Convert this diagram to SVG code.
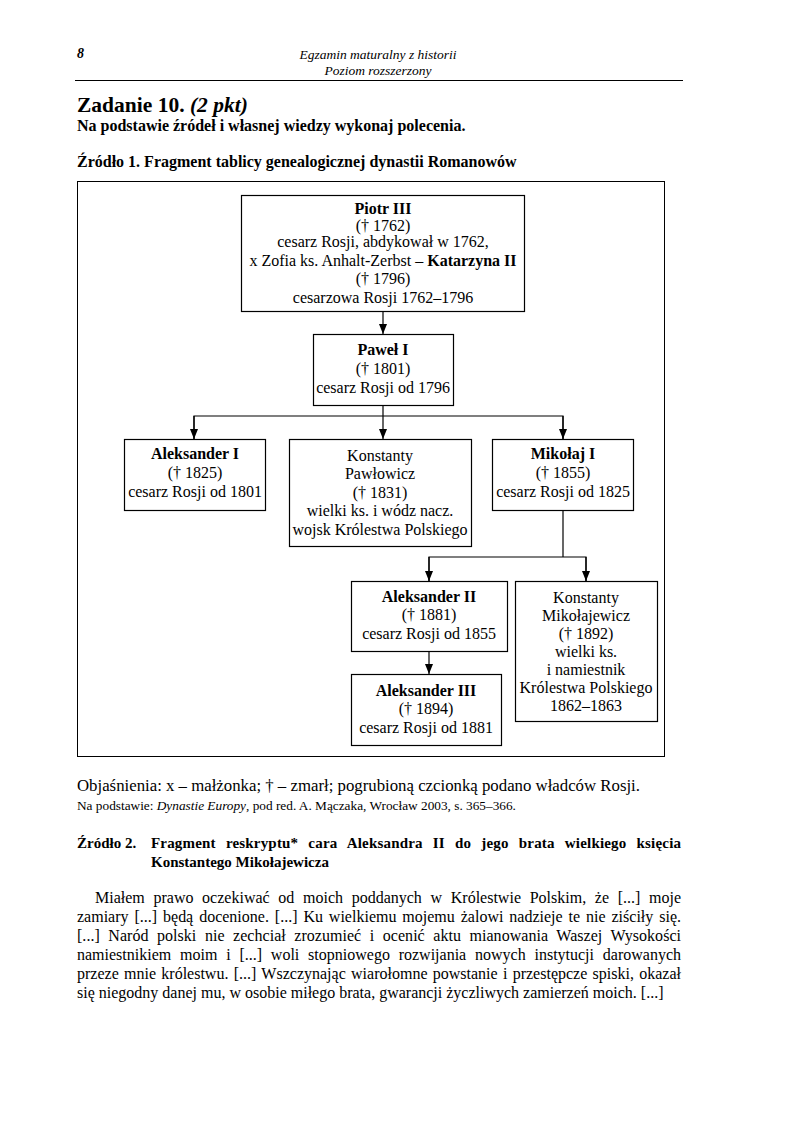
<svg xmlns="http://www.w3.org/2000/svg" width="794" height="1123" viewBox="0 0 794 1123">
<defs>
<marker id="ah" markerWidth="10" markerHeight="8" refX="10" refY="4" orient="auto" markerUnits="userSpaceOnUse" viewBox="0 0 10 8">
<path d="M0,0 L10,4 L0,8 Z" fill="#000"/>
</marker>
</defs>
<style>
text{font-family:"Liberation Serif","Times New Roman",serif;fill:#000}
.c{text-anchor:middle;font-size:16px}
.b{font-weight:bold}
.box{fill:#fff;stroke:#000;stroke-width:1.2}
.con{fill:none;stroke:#000;stroke-width:1.2}
.p{font-size:16px}
</style>
<rect width="794" height="1123" fill="#fff"/>
<!-- header -->
<text x="77" y="58" font-size="14" font-weight="bold" font-style="italic">8</text>
<text x="378" y="59" font-size="13.5" font-style="italic" text-anchor="middle">Egzamin maturalny z historii</text>
<text x="378" y="75" font-size="13.5" font-style="italic" text-anchor="middle">Poziom rozszerzony</text>
<line x1="75" y1="80.5" x2="683" y2="80.5" stroke="#000" stroke-width="1"/>
<text x="77" y="112" font-size="21.5" font-weight="bold">Zadanie 10. <tspan font-style="italic">(2 pkt)</tspan></text>
<text x="77" y="131" font-size="16" font-weight="bold">Na podstawie źródeł i własnej wiedzy wykonaj polecenia.</text>
<text x="77" y="167" font-size="16" font-weight="bold">Źródło 1. Fragment tablicy genealogicznej dynastii Romanowów</text>
<rect x="77.5" y="181.5" width="587" height="575" fill="none" stroke="#000" stroke-width="1"/>
<!-- connectors -->
<g id="connectors">
<line class="con" x1="383" y1="311" x2="383" y2="334" marker-end="url(#ah)"/>
<polyline class="con" points="383,405 383,416"/>
<polyline class="con" points="194,439 194,416 563,416 563,439"/>
<line class="con" x1="194" y1="416" x2="194" y2="439" marker-end="url(#ah)"/>
<line class="con" x1="383" y1="416" x2="383" y2="439" marker-end="url(#ah)"/>
<line class="con" x1="563" y1="416" x2="563" y2="439" marker-end="url(#ah)"/>
<polyline class="con" points="563,510 563,557"/>
<polyline class="con" points="429,581 429,557 586,557 586,581"/>
<line class="con" x1="429" y1="557" x2="429" y2="581" marker-end="url(#ah)"/>
<line class="con" x1="586" y1="557" x2="586" y2="581" marker-end="url(#ah)"/>
<line class="con" x1="429" y1="651" x2="429" y2="674" marker-end="url(#ah)"/>
</g>
<g id="piotr">
<rect class="box" x="241.5" y="195.5" width="283" height="116"/>
<text class="c b" x="383" y="214">Piotr III</text>
<text class="c" x="383" y="231" font-size="15">(† 1762)</text>
<text class="c" x="383" y="247" font-size="15">cesarz Rosji, abdykował w 1762,</text>
<text class="c" x="383" y="266">x Zofia ks. Anhalt-Zerbst – <tspan font-weight="bold">Katarzyna II</tspan></text>
<text class="c" x="383" y="284">(† 1796)</text>
<text class="c" x="383" y="303">cesarzowa Rosji 1762–1796</text>
</g>
<g id="pawel">
<rect class="box" x="313.5" y="334.5" width="140" height="71"/>
<text class="c b" x="383" y="355">Paweł I</text>
<text class="c" x="383" y="374">(† 1801)</text>
<text class="c" x="383" y="393">cesarz Rosji od 1796</text>
</g>
<g id="aleksander1">
<rect class="box" x="124.5" y="439.5" width="141" height="71"/>
<text class="c b" x="195" y="459">Aleksander I</text>
<text class="c" x="195" y="478">(† 1825)</text>
<text class="c" x="195" y="497">cesarz Rosji od 1801</text>
</g>
<g id="konstanty">
<rect class="box" x="289.5" y="439.5" width="182" height="107"/>
<text class="c" x="380" y="461">Konstanty</text>
<text class="c" x="380" y="479">Pawłowicz</text>
<text class="c" x="380" y="498">(† 1831)</text>
<text class="c" x="380" y="516">wielki ks. i wódz nacz.</text>
<text class="c" x="380" y="535">wojsk Królestwa Polskiego</text>
</g>
<g id="mikolaj">
<rect class="box" x="492.5" y="439.5" width="141" height="71"/>
<text class="c b" x="563" y="459">Mikołaj I</text>
<text class="c" x="563" y="478">(† 1855)</text>
<text class="c" x="563" y="497">cesarz Rosji od 1825</text>
</g>
<g id="aleksander2">
<rect class="box" x="351.5" y="581.5" width="156" height="70"/>
<text class="c b" x="429" y="602">Aleksander II</text>
<text class="c" x="429" y="620">(† 1881)</text>
<text class="c" x="429" y="639">cesarz Rosji od 1855</text>
</g>
<g id="aleksander3">
<rect class="box" x="351.5" y="674.5" width="150" height="71"/>
<text class="c b" x="426" y="696">Aleksander III</text>
<text class="c" x="426" y="714">(† 1894)</text>
<text class="c" x="426" y="733">cesarz Rosji od 1881</text>
</g>
<g id="konstanty2">
<rect class="box" x="515.5" y="581.5" width="142" height="140"/>
<text class="c" x="586" y="603">Konstanty</text>
<text class="c" x="586" y="621">Mikołajewicz</text>
<text class="c" x="586" y="639">(† 1892)</text>
<text class="c" x="586" y="657">wielki ks.</text>
<text class="c" x="586" y="675">i namiestnik</text>
<text class="c" x="586" y="693">Królestwa Polskiego</text>
<text class="c" x="586" y="711">1862–1863</text>
</g>
<!-- footer texts -->
<text x="77" y="791" font-size="16.8">Objaśnienia: x – małżonka; † – zmarł; pogrubioną czcionką podano władców Rosji.</text>
<text x="77" y="810" font-size="13.3">Na podstawie: <tspan font-style="italic">Dynastie Europy</tspan>, pod red. A. Mączaka, Wrocław 2003, s. 365–366.</text>
<text x="77" y="848" font-size="15" font-weight="bold">Źródło 2.</text>
<text x="151" y="848" font-size="15" font-weight="bold" word-spacing="6.2" textLength="530" lengthAdjust="spacing">Fragment reskryptu* cara Aleksandra II do jego brata wielkiego księcia</text>
<text x="151" y="867" font-size="15" font-weight="bold">Konstantego Mikołajewicza</text>
<text class="p" x="95" y="903" word-spacing="4.67" textLength="586" lengthAdjust="spacing">Miałem prawo oczekiwać od moich poddanych w Królestwie Polskim, że [...] moje</text>
<text class="p" x="77" y="922" word-spacing="1.92" textLength="604" lengthAdjust="spacing">zamiary [...] będą docenione. [...] Ku wielkiemu mojemu żalowi nadzieje te nie ziściły się.</text>
<text class="p" x="77" y="941" word-spacing="4.5" textLength="604" lengthAdjust="spacing">[...] Naród polski nie zechciał zrozumieć i ocenić aktu mianowania Waszej Wysokości</text>
<text class="p" x="77" y="960" word-spacing="4.8" textLength="604" lengthAdjust="spacing">namiestnikiem moim i [...] woli stopniowego rozwijania nowych instytucji darowanych</text>
<text class="p" x="77" y="979" word-spacing="1.26" textLength="604" lengthAdjust="spacing">przeze mnie królestwu. [...] Wszczynając wiarołomne powstanie i przestępcze spiski, okazał</text>
<text class="p" x="77" y="998">się niegodny danej mu, w osobie miłego brata, gwarancji życzliwych zamierzeń moich. [...]</text>
</svg>
